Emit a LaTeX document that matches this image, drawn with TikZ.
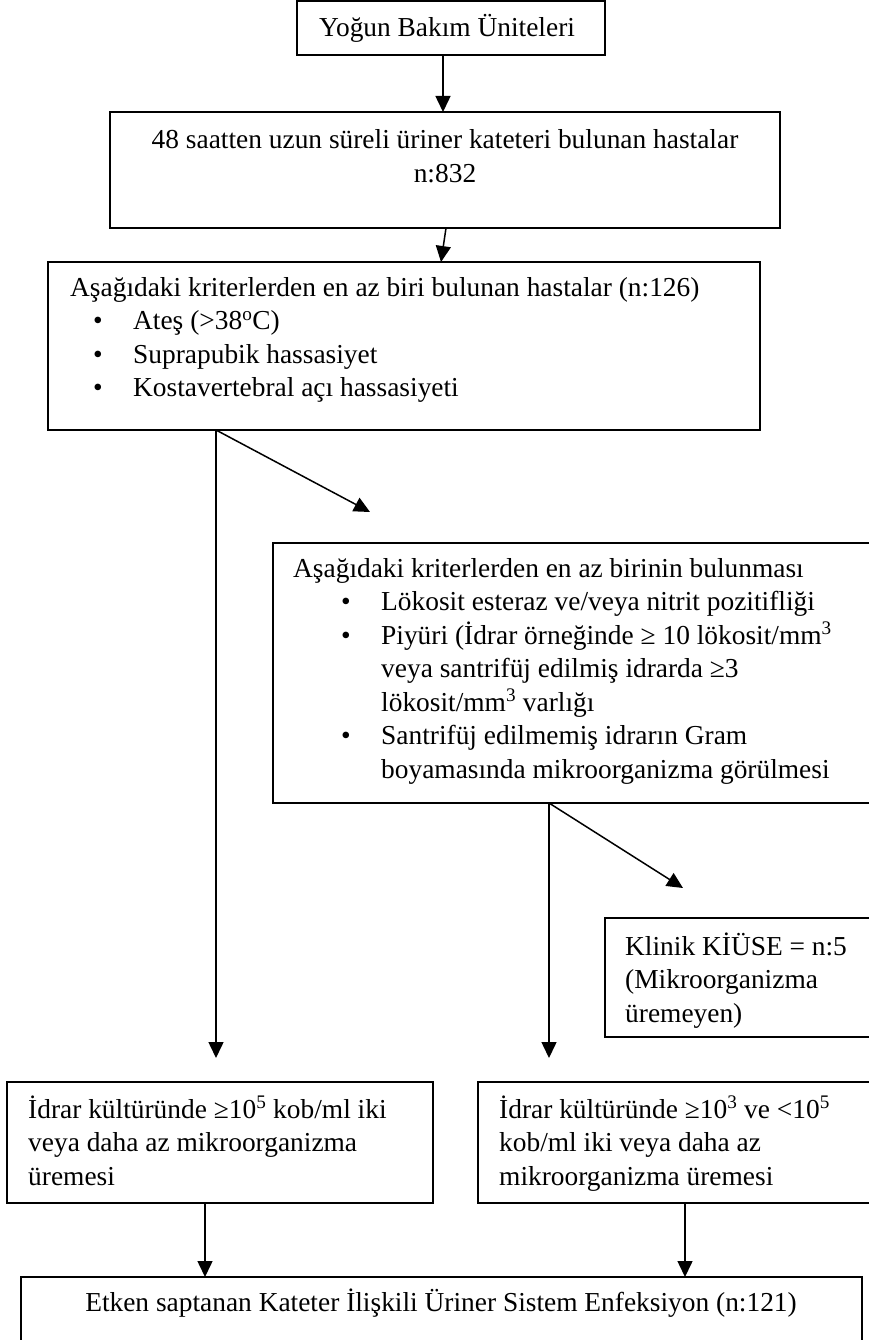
\documentclass[tikz,border=0pt]{standalone}
\usepackage{fontspec}
\setmainfont{Liberation Serif}
\usetikzlibrary{arrows.meta}
\newcommand{\fsz}{\fontsize{27.4}{33.5}\selectfont}
\newcommand{\blt}[1]{\makebox[88pt][l]{\hspace{48pt}•}#1}
\newcommand{\bltb}[1]{\makebox[63pt][l]{\hspace{23pt}•}#1}
\newcommand{\cont}[1]{\hspace{88pt}#1}
\begin{document}
\begin{tikzpicture}[x=1pt,y=-1pt,
  box/.style={draw, line width=1.8pt, rectangle, inner sep=0pt, outer sep=0pt, anchor=north west},
  txt/.style={inner sep=0pt, font=\fsz},
  conn/.style={line width=1.5pt},
  arr/.style={conn, -{Triangle[length=16pt,width=15pt]}}]
\useasboundingbox (0,0) rectangle (869,1340);
\fill[white] (0,0) rectangle (869,1340);
\clip (0,0) rectangle (869,1340);

% boxes
\node[box, minimum width=308pt, minimum height=54pt] (b1) at (297,1) {};
\node[box, minimum width=670pt, minimum height=116pt] (b2) at (110,112) {};
\node[box, minimum width=712pt, minimum height=168pt] (b3) at (48,262) {};
\node[box, minimum width=607pt, minimum height=260pt] (b4) at (273,543) {};
\node[box, minimum width=275pt, minimum height=119pt] (b5) at (605,918) {};
\node[box, minimum width=426pt, minimum height=121pt] (b6) at (7,1082) {};
\node[box, minimum width=402pt, minimum height=121pt] (b7) at (478,1082) {};
\node[box, minimum width=841pt, minimum height=130pt] (b8) at (21,1277) {};

% texts
\node[txt, anchor=base] (t1) at (447,37) {Yoğun Bakım Üniteleri};
\node[txt, anchor=base] (t2) at (445,149) {\begin{tabular}[t]{@{}c@{}}48 saatten uzun süreli üriner kateteri bulunan hastalar\\ n:832\end{tabular}};
\node[txt, anchor=base west] (t3) at (70,296) {\begin{tabular}[t]{@{}l@{}}
Aşağıdaki kriterlerden en az biri bulunan hastalar (n:126)\\
\bltb{Ateş (>38\textsuperscript{o}C)}\\
\bltb{Suprapubik hassasiyet}\\
\bltb{Kostavertebral açı hassasiyeti}
\end{tabular}};
\node[txt, anchor=base west] (t4) at (293,577) {\begin{tabular}[t]{@{}l@{}}
Aşağıdaki kriterlerden en az birinin bulunması\\
\blt{Lökosit esteraz ve/veya nitrit pozitifliği}\\
\blt{Piyüri (İdrar örneğinde ≥ 10 lökosit/mm\textsuperscript{3}}\\
\cont{veya santrifüj edilmiş idrarda ≥3}\\
\cont{lökosit/mm\textsuperscript{3} varlığı}\\
\blt{Santrifüj edilmemiş idrarın Gram}\\
\cont{boyamasında mikroorganizma görülmesi}
\end{tabular}};
\node[txt, anchor=base west] (t5) at (625,955) {\begin{tabular}[t]{@{}l@{}}
Klinik KİÜSE = n:5\\ (Mikroorganizma\\ üremeyen)\end{tabular}};
\node[txt, anchor=base west] (t6) at (28,1118) {\begin{tabular}[t]{@{}l@{}}
İdrar kültüründe ≥10\textsuperscript{5} kob/ml iki\\ veya daha az mikroorganizma\\ üremesi\end{tabular}};
\node[txt, anchor=base west] (t7) at (499,1118) {\begin{tabular}[t]{@{}l@{}}
İdrar kültüründe ≥10\textsuperscript{3} ve <10\textsuperscript{5}\\ kob/ml iki veya daha az\\ mikroorganizma üremesi\end{tabular}};
\node[txt, anchor=base] (t8) at (441,1311) {Etken saptanan Kateter İlişkili Üriner Sistem Enfeksiyon (n:121)};

% free arrow tips
\coordinate (tL) at (216,1058);
\coordinate (tD1) at (370,512);
\coordinate (tM) at (549,1058);
\coordinate (tD2) at (683,888);

% connectors
\draw[arr] ([xshift=146pt]b1.south west) -- ([xshift=333pt]b2.north west);
\draw[arr] ([xshift=336pt]b2.south west) -- ([xshift=393pt]b3.north west);
\draw[arr] ([xshift=168pt]b3.south west) -- (tL);
\draw[arr] ([xshift=168pt]b3.south west) -- (tD1);
\draw[arr] ([xshift=276pt]b4.south west) -- (tM);
\draw[arr] ([xshift=276pt]b4.south west) -- (tD2);
\draw[arr] ([xshift=198pt]b6.south west) -- ([xshift=184pt]b8.north west);
\draw[arr] ([xshift=207pt]b7.south west) -- ([xshift=664pt]b8.north west);
\end{tikzpicture}
\end{document}
